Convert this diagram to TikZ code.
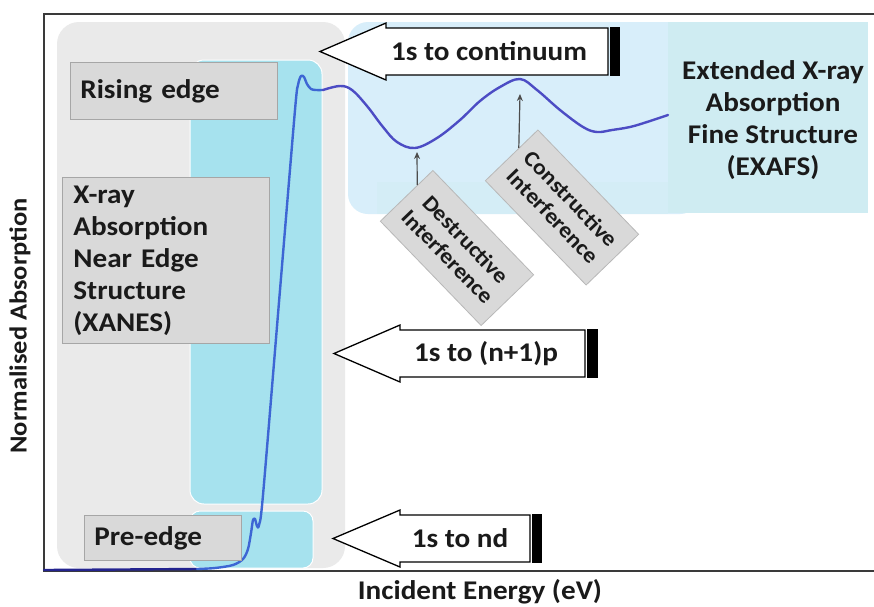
\documentclass[tikz,border=0pt]{standalone}
\usepackage{fontspec}
\setmainfont{Carlito}[FakeStretch=1.08]
\usetikzlibrary{arrows.meta,calc}
\definecolor{regiongray}{HTML}{EAEAEA}
\definecolor{xcyan}{HTML}{A6E2EE}
\definecolor{exblue}{HTML}{D8EEFA}
\definecolor{excyan}{HTML}{CFECF2}
\definecolor{labgray}{HTML}{D9D9D9}
\definecolor{labedge}{HTML}{A6A6A6}
\definecolor{edgeblue}{HTML}{3D66D4}
\definecolor{exafsline}{HTML}{4C4CC4}
\definecolor{baseblue}{HTML}{24248F}
\definecolor{framegray}{HTML}{3A3A3A}
\definecolor{txt}{HTML}{1A1A1A}
\newcommand\blkarrow[5]{%
  \draw[blockarrow] (#1,#2) -- (#3,#2-28.5) -- (#3,#2-23.5) -- (#4,#2-23.5) -- (#4,#2+23.5) -- (#3,#2+23.5) -- (#3,#2+28.5) -- cycle;
  \fill[black] (#4+1.9,#2-24.2) rectangle (#5,#2+24.2);}
\begin{document}
\begin{tikzpicture}[x=1pt,y=-1pt,
  bigfont/.style={font=\fontsize{27}{32}\selectfont\bfseries, text=txt},
  labelbox/.style={bigfont, fill=labgray, draw=labedge, line width=0.8pt, anchor=north west, align=left, inner ysep=0pt},
  rotbox/.style={font=\fontsize{22}{25}\selectfont\bfseries, text=txt, fill=labgray, draw=labedge!80, line width=0.8pt, rotate=-46, minimum width=145pt, minimum height=73pt, align=center, inner sep=0pt},
  blockarrow/.style={fill=white, draw=black, line width=1.3pt, line join=miter},
  pointer/.style={draw=black!70, line width=1.2pt, -{Stealth[length=7pt,width=6pt]}},
  curve/.style={line width=2.4pt, line join=round, line cap=round}
]
\useasboundingbox (0,0) rectangle (874,606);
\fill[white] (0,0) rectangle (874,606);
% background regions
\fill[regiongray, rounded corners=22] (57,22) rectangle (345,568);
\filldraw[fill=xcyan, draw=white, line width=1pt, rounded corners=14] (190,60) rectangle (322,504);
\filldraw[fill=xcyan, draw=white, line width=1pt, rounded corners=10] (190,511) rectangle (313,568);
\fill[exblue, rounded corners=20] (348,22) rectangle (700,214);
\fill[excyan!45!exblue] (377,182) rectangle (668,214);
\fill[excyan] (668,22) rectangle (868,213);
% frame
\draw[framegray, line width=2.2pt] (874,14) -- (44,14) -- (44,571) -- (874,571);
% spectrum
\draw[curve, baseblue] (44,570) -- (197,569);
\draw[curve, edgeblue] plot[smooth, tension=0.5] coordinates {(197,569) (215,568) (233,565) (243,559) (248,549) (251,533) (253,520) (255,519) (257,526) (259,525) (263,495) (280,290) (295,110) (298,85) (301,76) (304,77) (307,84) (311,89) (316,90) (323,90)};
\draw[curve, exafsline] plot[smooth, tension=0.6] coordinates {(323,90) (340,86) (352,90) (367,106) (383,127) (397,142) (415,148) (437,138) (460,120) (480,101) (500,87) (520,79) (537,90) (560,110) (583,127) (597,132) (612,130) (630,127) (647,122) (668,115)};
\coordinate (dmin) at (417,152);
\coordinate (cmax) at (520,94);
% label boxes
\node[labelbox, text width=187pt, inner xsep=10pt, minimum height=57pt] (rising) at (70,62) {Rising edge};
\node[labelbox, text width=185pt, inner xsep=11pt, minimum height=166pt] (xanes) at (62,177) {X-ray\\Absorption\\Near Edge\\Structure\\(XANES)};
\node[labelbox, text width=137pt, inner xsep=10pt, minimum height=45pt] (pre) at (84,515) {Pre-edge};
\node[bigfont, align=center] (exafs) at (773,120) {Extended X-ray\\Absorption\\Fine Structure\\(EXAFS)};
% block arrows
\blkarrow{320}{51.5}{386}{608}{620}
\blkarrow{334}{353.5}{400}{585}{598}
\blkarrow{333}{538.5}{400}{530}{542}
\node[bigfont] (cont) at (489,51.5) {1s to continuum};
\node[bigfont] (np) at (486,353.5) {1s to (n+1)p};
\node[bigfont] (nd) at (460,538.5) {1s to nd};
% rotated boxes
\node[rotbox] (dbox) at (457,248) {Destructive\\Interference};
\node[rotbox] (cbox) at (562,207.5) {Constructive\\Interference};
\draw[pointer] ($(dbox.west)!0.41!(dbox.north west)$) -- (dmin);
\draw[pointer] ($(cbox.west)!0.28!(cbox.north west)$) -- (cmax);
% axis labels
\node[font=\fontsize{24.5}{28}\selectfont\bfseries, text=txt, rotate=90] (ylab) at (20,326) {Normalised Absorption};
\node[bigfont] (xlab) at (480,592) {Incident Energy (eV)};
\end{tikzpicture}
\end{document}
